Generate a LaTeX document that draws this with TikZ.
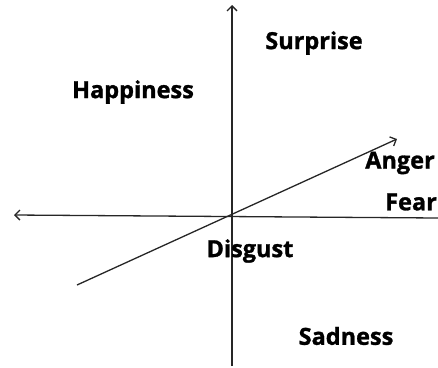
\documentclass[tikz,border=0pt]{standalone}
\usepackage{fontspec}
\setsansfont{Open Sans}[BoldFeatures={FakeBold=1.2}]
\usetikzlibrary{arrows.meta,positioning}

\begin{document}
\begin{tikzpicture}[
    x=1pt, y=-1pt,
    font=\sffamily\bfseries\fontsize{23.5}{28}\selectfont,
    emotion/.style={inner sep=0pt, anchor=center},
    axis/.style={line width=1.3pt, color=black!85},
    arrow/.style={axis, -{Straight Barb[length=5pt, width=10pt]}}
]
  \useasboundingbox (0,0) rectangle (438,367);

  % =========================================================================
  % EIXOS
  % =========================================================================
  \coordinate (ax_top) at (232,5);
  \coordinate (ax_bottom) at (232,366);
  \coordinate (ax_left) at (14,215);
  \coordinate (ax_right) at (438,218);
  \coordinate (diag_lo) at (77,285);
  \coordinate (diag_hi) at (397,139);

  \draw[arrow] (ax_bottom) -- (ax_top);
  \draw[arrow] (ax_right) -- (ax_left);
  \draw[arrow] (diag_lo) -- (diag_hi);

  % =========================================================================
  % EMOCOES
  % =========================================================================
  \node[emotion] (n_surprise) at (314,43) {Surprise};
  \node[emotion] (n_happiness) at (133,92) {Happiness};
  \node[emotion] (n_anger) at (400,163) {Anger};
  \node[emotion] (n_fear) at (411,202) {Fear};
  \node[emotion] (n_disgust) at (250,251) {Disgust};
  \node[emotion] (n_sadness) at (346,336) {Sadness};

\end{tikzpicture}
\end{document}
